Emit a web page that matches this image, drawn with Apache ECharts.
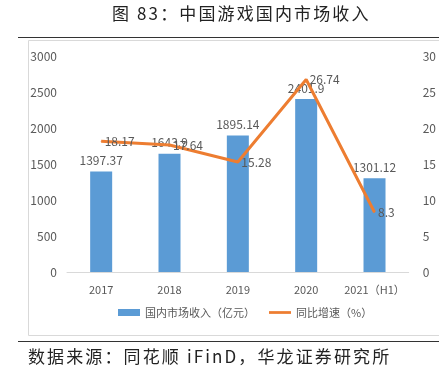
<!DOCTYPE html>
<html>
<head>
<meta charset="utf-8">
<script src="https://cdn.jsdelivr.net/npm/echarts@6/dist/echarts.min.js"></script>
<style>
  html, body { margin: 0; padding: 0; background: #fff; }
  #container { width: 439px; height: 376px; }
</style>
</head>
<body>
<div id="container"></div>
<script>
const years = ['2017', '2018', '2019', '2020', '2021（H1）'];
const revenue = [1397.37, 1643.9, 1895.14, 2401.9, 1301.12];
const growth = [18.17, 17.64, 15.28, 26.74, 8.3];
const titleText = '图 83：中国游戏国内市场收入';
const sourceText = '数据来源：同花顺 iFinD，华龙证券研究所';

const font = '"Noto Sans CJK SC", "DejaVu Sans", sans-serif';
const labelColor = '#595959';
// the report's heading font is set wider, so pad the glyphs a little
const spaced = s => s.split('').join('\u200A\u200A');

let myChart = echarts.init(document.getElementById('container'));

let option = {
    animation: false,
    textStyle: { fontFamily: font },
    graphic: [
        { type: 'text', left: 112, top: 5, style: { text: spaced(titleText), font: '17px ' + font, fill: '#222' } },
        { type: 'line', shape: { x1: 18, y1: 37.5, x2: 439, y2: 37.5 }, style: { stroke: '#333', lineWidth: 1 } },
        { type: 'rect', shape: { x: 28.5, y: 40.5, width: 420, height: 295 }, style: { fill: 'none', stroke: '#d9d9d9', lineWidth: 1 } },
        { type: 'line', shape: { x1: 18, y1: 341.5, x2: 439, y2: 341.5 }, style: { stroke: '#333', lineWidth: 1 } },
        { type: 'text', left: 28, top: 348, style: { text: spaced(sourceText), font: '17px ' + font, fill: '#222' } }
    ],
    legend: {
        bottom: 53,
        left: 113,
        itemGap: 14,
        itemWidth: 22,
        itemHeight: 7,
        textStyle: { color: labelColor, fontSize: 11 },
        data: [
            { name: '国内市场收入（亿元）', icon: 'rect' },
            { name: '同比增速（%）', icon: 'path://M0,0H24V3H0Z' }
        ]
    },
    grid: { left: 67, right: 22, top: 56, bottom: 104 },
    xAxis: {
        type: 'category',
        data: years,
        axisLine: { lineStyle: { color: '#d9d9d9' } },
        axisTick: { show: false },
        axisLabel: { color: labelColor, fontSize: 11, margin: 12, interval: 0 }
    },
    yAxis: [
        {
            type: 'value', min: 0, max: 3000, interval: 500,
            splitLine: { show: false },
            axisLine: { show: false },
            axisLabel: { color: labelColor, fontSize: 12, margin: 10, formatter: v => String(v) }
        },
        {
            type: 'value', min: 0, max: 30, interval: 5,
            splitLine: { show: false },
            axisLine: { show: false },
            axisLabel: { color: labelColor, fontSize: 12, margin: 14 }
        }
    ],
    series: [
        {
            name: '国内市场收入（亿元）',
            type: 'bar',
            data: revenue,
            barWidth: 22,
            itemStyle: { color: '#5b9bd5' },
            label: { show: true, position: 'top', distance: 5, color: labelColor, fontSize: 12, formatter: p => String(p.value) }
        },
        {
            name: '同比增速（%）',
            type: 'line',
            yAxisIndex: 1,
            data: growth,
            symbol: 'circle',
            symbolSize: 1,
            lineStyle: { color: '#ed7d31', width: 3 },
            itemStyle: { color: '#ed7d31' },
            label: { show: true, position: 'right', distance: 3, color: labelColor, fontSize: 12, formatter: p => String(p.value) }
        }
    ]
};
myChart.setOption(option);
</script>
</body>
</html>
